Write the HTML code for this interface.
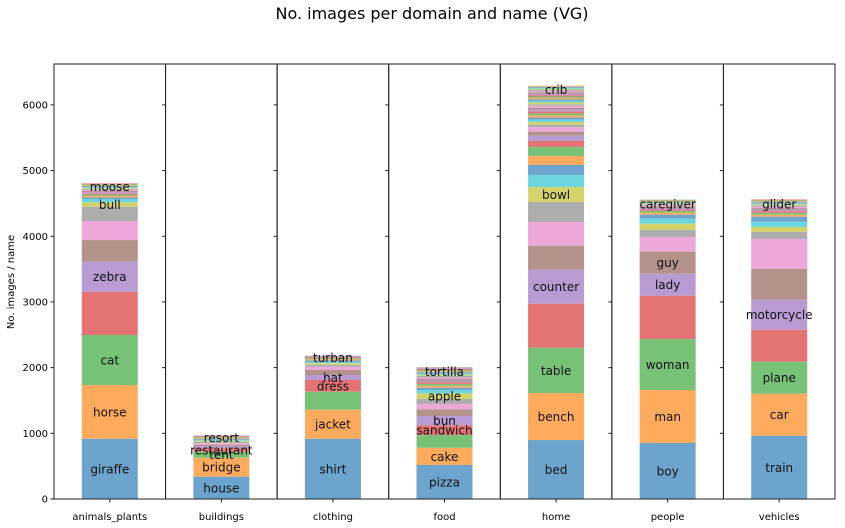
<!DOCTYPE html>
<html><head><meta charset="utf-8"><style>
body{margin:0;background:#fff;}
svg{display:block;font-family:"DejaVu Sans","Liberation Sans",sans-serif;}
</style></head><body>
<svg id="chart" width="845" height="528">
<text x="432" y="19" text-anchor="middle" font-size="16">No. images per domain and name (VG)</text>
<text transform="translate(14,282) rotate(-90)" text-anchor="middle" font-size="10">No. images / name</text>
</svg>
<script>
const categories=["animals_plants","buildings","clothing","food","home","people","vehicles"];
const valAnimals=[918,818,761,659,457,330,289,218,67,50,25,22,20,20,18,18,16,16,15,15,14,14,13,12];
const labAnimals=["giraffe","horse","cat","","zebra","","","","bull","","","","","","","","","","","","moose","","",""];
const valBuildings=[340,289,91,52,30,25,22,20,18,16,15,14,13,12,10];
const labBuildings=["house","bridge","tent","restaurant","","","","","","","","","resort","",""];
const valClothing=[918,442,274,178,76,76,50,30,25,22,20,18,16,14,12,10];
const labClothing=["shirt","jacket","","dress","hat","","","","","","","","","turban","",""];
const valFood=[518,263,193,148,142,102,81,76,87,50,35,30,28,26,25,24,22,22,20,20,18,17,16,15,14,12];
const labFood=["pizza","cake","","sandwich","bun","","","","apple","","","","","","","","","","","","","tortilla","","","",""];
const valHome=[898,716,690,670,518,365,361,305,228,183,152,137,137,91,81,61,67,40,38,36,34,32,31,30,29,28,27,26,26,24,23,22,22,21,20,20,19,18,18,17,16,15];
const labHome=["bed","bench","table","","counter","","","","bowl","","","","","","","","","","","","","","","","","","","","","","","","","","","","","","crib","","",""];
const valPeople=[853,807,777,659,335,335,224,107,96,76,61,30,26,24,22,20,18,17,16,15,14,13,12];
const labPeople=["boy","man","woman","","lady","guy","","","","","","","","","","","","","caregiver","","","",""];
const valVehicles=[964,640,487,487,457,467,457,107,76,81,76,30,28,26,24,22,20,19,18,17,16,15,14,12];
const labVehicles=["train","car","plane","","motorcycle","","","","","","","","","","","","","","","glider","","","",""];
const yTicks=[0,1000,2000,3000,4000,5000,6000];
const seriesVals=[valAnimals,valBuildings,valClothing,valFood,valHome,valPeople,valVehicles];
const seriesLabs=[labAnimals,labBuildings,labClothing,labFood,labHome,labPeople,labVehicles];
const colors=["#6ca4cd","#ffab5e","#77c276","#e47474","#b99bd3","#b3928b","#eda7d9","#adadad","#d3d36b","#6bd5e0"];
const NS="http://www.w3.org/2000/svg";
const svg=document.getElementById("chart");
const L=54,R=835,T=64,B=499,yMax=6623;
const pw=(R-L)/categories.length;
function y(v){return B-v/yMax*(B-T);}
function mk(t,a){const e=document.createElementNS(NS,t);for(const k in a)e.setAttribute(k,a[k]);svg.appendChild(e);return e;}
categories.forEach((c,i)=>{
  const x0=L+i*pw, cx=x0+pw/2, bw=56;
  let cum=0;
  const vals=seriesVals[i], labs=seriesLabs[i];
  vals.forEach((v,j)=>{
    const r=mk("rect",{x:cx-bw/2,y:y(cum+v),width:bw,height:y(cum)-y(cum+v),fill:colors[j%10]});
    
    
    cum+=v;
  });
  cum=0;
  vals.forEach((v,j)=>{
    if(labs[j]){
      const t=mk("text",{x:cx,y:(y(cum)+y(cum+v))/2+4.5,"text-anchor":"middle","font-size":12,fill:"#111"});
      t.textContent=labs[j];
      
      
    }
    cum+=v;
  });
  const f=mk("rect",{x:x0,y:T,width:pw,height:B-T,fill:"none",stroke:"#222","stroke-width":1});
  
  
  mk("line",{x1:cx,x2:cx,y1:B,y2:B+3.5,stroke:"#222"});
  const xt=mk("text",{x:cx,y:520,"text-anchor":"middle","font-size":10});
  xt.textContent=c;
  
  
  yTicks.forEach(v=>{
    mk("line",{x1:x0-3.5,x2:x0,y1:y(v),y2:y(v),stroke:"#222"});
    if(i===0){
      const yt=mk("text",{x:x0-6,y:y(v)+3.5,"text-anchor":"end","font-size":10});
      yt.textContent=v;
      
      
    }
  });
});
</script>
</body></html>
